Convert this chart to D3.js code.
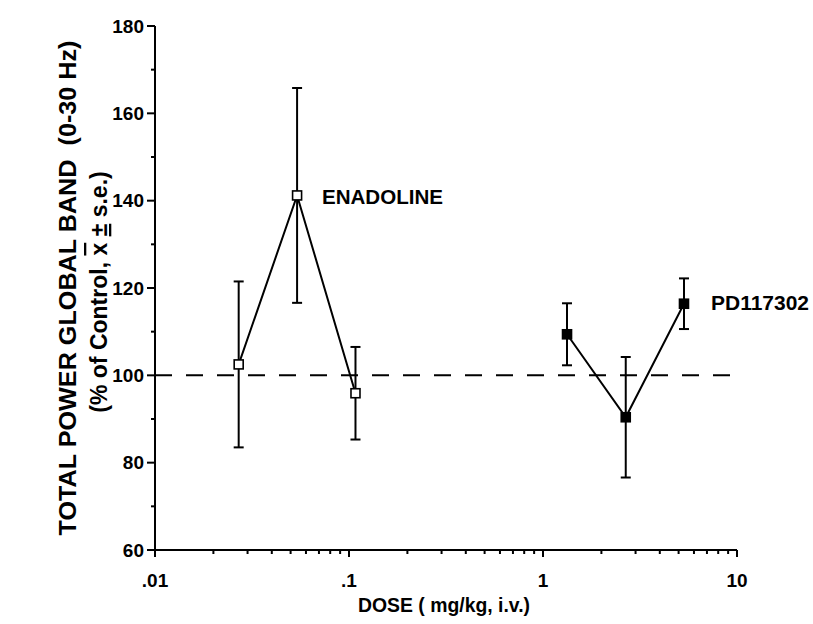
<!DOCTYPE html>
<html>
<head>
<meta charset="utf-8">
<script src="https://cdn.jsdelivr.net/npm/d3@7"></script>
<style>
  body { margin: 0; background: #fff; }
  text { font-family: "Liberation Sans", Arial, Helvetica, sans-serif; font-weight: bold; fill: #000; }
</style>
</head>
<body>
<script>
// Enadoline data (open squares)
var enaDose = [0.027, 0.054, 0.108];
var enaMean = [102.5, 141.2, 95.9];
var enaSE   = [19.0, 24.6, 10.6];

// PD117302 data (filled squares)
var pdDose = [1.33, 2.67, 5.33];
var pdMean = [109.4, 90.4, 116.4];
var pdSE   = [7.1, 13.8, 5.8];

var yTicks = [60, 80, 100, 120, 140, 160, 180];
var xTicks = [0.01, 0.1, 1, 10];
var xTickLabels = [".01", ".1", "1", "10"];

var width = 813, height = 624;
var svg = d3.select("body").append("svg")
    .attr("width", width)
    .attr("height", height);

var x = d3.scaleLog().domain([0.01, 10]).range([155, 737]);
var y = d3.scaleLinear().domain([60, 180]).range([550, 26]);

// y axis
var yAxis = svg.append("g").attr("transform", "translate(155,0)");
yAxis.append("line").attr("y1", y(60)).attr("y2", y(180))
    .attr("stroke", "#000").attr("stroke-width", 2);
yAxis.selectAll(".minor").data(d3.range(70, 180, 20)).enter().append("line")
    .attr("x1", -4).attr("x2", 0)
    .attr("y1", function(d) { return y(d); }).attr("y2", function(d) { return y(d); })
    .attr("stroke", "#000").attr("stroke-width", 2);
yAxis.selectAll(".major").data(yTicks).enter().append("line")
    .attr("x1", -8).attr("x2", 0)
    .attr("y1", function(d) { return y(d); }).attr("y2", function(d) { return y(d); })
    .attr("stroke", "#000").attr("stroke-width", 2);
yAxis.selectAll("text").data(yTicks).enter().append("text")
    .attr("x", -11).attr("y", function(d) { return y(d); })
    .attr("dy", "0.35em").attr("text-anchor", "end")
    .attr("font-size", 19)
    .text(function(d) { return d; });

// x axis
var xAxis = svg.append("g").attr("transform", "translate(0,550)");
xAxis.append("line").attr("x1", 147).attr("x2", x(10))
    .attr("stroke", "#000").attr("stroke-width", 2);
var minor = [];
[0.01, 0.1, 1].forEach(function(dec) {
  for (var k = 2; k <= 9; k++) minor.push(dec * k);
});
xAxis.selectAll(".minor").data(minor).enter().append("line")
    .attr("x1", function(d) { return x(d); }).attr("x2", function(d) { return x(d); })
    .attr("y1", 0).attr("y2", 4)
    .attr("stroke", "#000").attr("stroke-width", 2);
xAxis.selectAll(".major").data(xTicks).enter().append("line")
    .attr("x1", function(d) { return x(d); }).attr("x2", function(d) { return x(d); })
    .attr("y1", 0).attr("y2", 7)
    .attr("stroke", "#000").attr("stroke-width", 2);
xAxis.selectAll("text").data(xTicks).enter().append("text")
    .attr("x", function(d) { return x(d); }).attr("y", 37)
    .attr("text-anchor", "middle")
    .attr("font-size", 19)
    .text(function(d, i) { return xTickLabels[i]; });

// control line at 100%
svg.append("line")
    .attr("x1", x(0.01)).attr("x2", x(10))
    .attr("y1", y(100)).attr("y2", y(100))
    .attr("stroke", "#000").attr("stroke-width", 2)
    .attr("stroke-dasharray", "17,14");

function drawSeries(dose, mean, se, filled) {
  var pts = dose.map(function(d, i) { return { d: d, m: mean[i], s: se[i] }; });
  var g = svg.append("g");
  g.append("path").datum(pts)
    .attr("fill", "none").attr("stroke", "#000").attr("stroke-width", 2)
    .attr("d", d3.line().x(function(p) { return x(p.d); }).y(function(p) { return y(p.m); }));
  var eb = g.selectAll(".eb").data(pts).enter().append("g");
  eb.append("line")
    .attr("x1", function(p) { return x(p.d); }).attr("x2", function(p) { return x(p.d); })
    .attr("y1", function(p) { return y(p.m + p.s); }).attr("y2", function(p) { return y(p.m - p.s); })
    .attr("stroke", "#000").attr("stroke-width", 2);
  [1, -1].forEach(function(sign) {
    eb.append("line")
      .attr("x1", function(p) { return x(p.d) - 5; }).attr("x2", function(p) { return x(p.d) + 5; })
      .attr("y1", function(p) { return y(p.m + sign * p.s); }).attr("y2", function(p) { return y(p.m + sign * p.s); })
      .attr("stroke", "#000").attr("stroke-width", 2);
  });
  g.selectAll(".pt").data(pts).enter().append("rect")
    .attr("x", function(p) { return x(p.d) - 4.5; })
    .attr("y", function(p) { return y(p.m) - 4.5; })
    .attr("width", 9).attr("height", 9)
    .attr("fill", filled ? "#000" : "#fff")
    .attr("stroke", "#000").attr("stroke-width", 1.6);
}

drawSeries(enaDose, enaMean, enaSE, false);
drawSeries(pdDose, pdMean, pdSE, true);

// series labels
svg.append("text").attr("x", 322).attr("y", 204).attr("font-size", 20)
    .attr("textLength", 121).attr("lengthAdjust", "spacingAndGlyphs")
    .text("ENADOLINE");
svg.append("text").attr("x", 711).attr("y", 310).attr("font-size", 20)
    .attr("textLength", 98).attr("lengthAdjust", "spacingAndGlyphs")
    .text("PD117302");

// axis titles
svg.append("text").attr("x", 358).attr("y", 612)
    .attr("font-size", 21)
    .attr("textLength", 172).attr("lengthAdjust", "spacingAndGlyphs")
    .text("DOSE ( mg/kg, i.v.)");

svg.append("text").attr("transform", "translate(76,288) rotate(-90)")
    .attr("text-anchor", "middle").attr("font-size", 24)
    .attr("xml:space", "preserve")
    .attr("textLength", 495).attr("lengthAdjust", "spacingAndGlyphs")
    .text("TOTAL POWER GLOBAL BAND  (0-30 Hz)");

var yt2 = svg.append("text").attr("transform", "translate(107,292) rotate(-90)")
    .attr("text-anchor", "middle").attr("font-size", 23)
    .attr("xml:space", "preserve");
yt2.append("tspan").text("(% of Control, ");
yt2.append("tspan").style("text-decoration", "overline").text("x");
yt2.append("tspan").text(" ");
yt2.append("tspan").style("text-decoration", "underline").text("±");
yt2.append("tspan").text(" s.e.)");
</script>
</body>
</html>
